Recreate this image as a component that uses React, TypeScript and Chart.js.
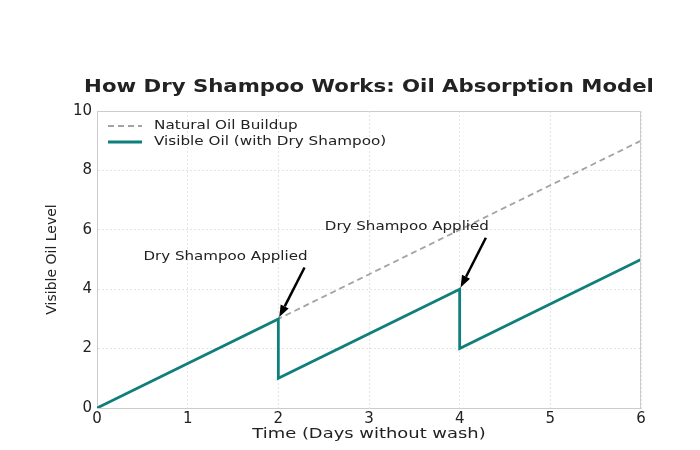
import React, { useEffect, useRef } from 'react';
import { Chart, registerables } from 'chart.js';

Chart.register(...registerables);

// Data
const shampooDays = [0, 2, 2, 4, 4, 6];
const visibleOil = [0, 3, 1, 4, 2, 5];
const naturalDays = [0, 2, 4, 6];
const naturalOil = [0, 3, 6, 9];
const xTicks = [0, 1, 2, 3, 4, 5, 6];
const yTicks = [0, 2, 4, 6, 8, 10];

const annotationLabels = ['Dry Shampoo Applied', 'Dry Shampoo Applied'];
const annotationTextX = [2.3, 4.3];
const annotationTextY = [5, 6];
const annotationPointX = [2, 4];
const annotationPointY = [3, 4];

const legendLabels = ['Natural Oil Buildup', 'Visible Oil (with Dry Shampoo)'];

const FONT = '"DejaVu Sans", sans-serif';
const TEAL = '#0f7f7c';
const GRAY = '#a3a3a3';
const INK = '#222222';

// the reference text is a little wider than the font draws it, so stretch it sideways
function wideText(ctx: CanvasRenderingContext2D, text: string, x: number, y: number, align: CanvasTextAlign, sx: number) {
  ctx.save();
  ctx.translate(x, y);
  ctx.scale(sx, 1);
  ctx.textAlign = align;
  ctx.fillText(text, 0, 0);
  ctx.restore();
}

const overlayPlugin = {
  id: 'overlay',
  afterDraw(chart: any) {
    const { ctx, chartArea, scales } = chart;
    const xs = scales.x;
    const ys = scales.y;
    ctx.save();

    // frame (top and right)
    ctx.strokeStyle = '#cccccc';
    ctx.lineWidth = 1;
    ctx.beginPath();
    ctx.moveTo(chartArea.left, chartArea.top + 0.5);
    ctx.lineTo(chartArea.right - 0.5, chartArea.top + 0.5);
    ctx.lineTo(chartArea.right - 0.5, chartArea.bottom);
    ctx.stroke();

    // title
    ctx.fillStyle = INK;
    ctx.font = `bold 17px ${FONT}`;
    ctx.textBaseline = 'middle';
    wideText(ctx, 'How Dry Shampoo Works: Oil Absorption Model', (chartArea.left + chartArea.right) / 2, chartArea.top - 23, 'center', 1.25);

    // x axis title
    ctx.font = `14px ${FONT}`;
    wideText(ctx, 'Time (Days without wash)', (chartArea.left + chartArea.right) / 2, chartArea.bottom + 26, 'center', 1.28);

    // legend
    ctx.font = `13px ${FONT}`;
    legendLabels.forEach((label, i) => {
      const y = chartArea.top + 15 + i * 16;
      const x0 = chartArea.left + 11;
      ctx.beginPath();
      if (i === 0) {
        ctx.setLineDash([6, 4]);
        ctx.strokeStyle = GRAY;
        ctx.lineWidth = 1.8;
      } else {
        ctx.setLineDash([]);
        ctx.strokeStyle = TEAL;
        ctx.lineWidth = 2.8;
      }
      ctx.moveTo(x0, y);
      ctx.lineTo(x0 + 34, y);
      ctx.stroke();
      ctx.setLineDash([]);
      ctx.fillStyle = INK;
      wideText(ctx, label, x0 + 46, y, 'left', 1.17);
    });

    // annotations
    annotationLabels.forEach((label, i) => {
      const tx = xs.getPixelForValue(annotationTextX[i]);
      const ty = ys.getPixelForValue(annotationTextY[i]);
      const px = xs.getPixelForValue(annotationPointX[i]);
      const py = ys.getPixelForValue(annotationPointY[i]);
      ctx.font = `13px ${FONT}`;
      ctx.fillStyle = INK;
      ctx.textBaseline = 'alphabetic';
      wideText(ctx, label, tx + 2, ty, 'right', 1.16);

      const sx = tx - 1;
      const sy = ty + 8;
      const ang = Math.atan2(py - sy, px - sx);
      const ex = px - Math.cos(ang) * 2;
      const ey = py - Math.sin(ang) * 2;
      const headLen = 12;
      const headW = 4.5;
      const bx = ex - Math.cos(ang) * headLen;
      const by = ey - Math.sin(ang) * headLen;
      ctx.strokeStyle = '#000000';
      ctx.fillStyle = '#000000';
      ctx.lineWidth = 2.5;
      ctx.beginPath();
      ctx.moveTo(sx, sy);
      ctx.lineTo(bx, by);
      ctx.stroke();
      ctx.beginPath();
      ctx.moveTo(ex, ey);
      ctx.lineTo(bx - Math.sin(ang) * headW, by + Math.cos(ang) * headW);
      ctx.lineTo(bx + Math.sin(ang) * headW, by - Math.cos(ang) * headW);
      ctx.closePath();
      ctx.fill();
    });

    ctx.restore();
  },
};

export default function App() {
  const canvasRef = useRef<HTMLCanvasElement>(null);

  useEffect(() => {
    if (!canvasRef.current) return;
    const chart = new Chart(canvasRef.current, {
      type: 'line',
      data: {
        datasets: [
          {
            label: legendLabels[1],
            data: shampooDays.map((d, i) => ({ x: d, y: visibleOil[i] })),
            borderColor: TEAL,
            borderWidth: 2.8,
            pointRadius: 0,
            tension: 0,
            fill: false,
          },
          {
            label: legendLabels[0],
            data: naturalDays.map((d, i) => ({ x: d, y: naturalOil[i] })),
            borderColor: GRAY,
            borderWidth: 1.8,
            borderDash: [6, 4],
            pointRadius: 0,
            tension: 0,
            fill: false,
          },
        ],
      },
      options: {
        responsive: true,
        maintainAspectRatio: false,
        animation: false,
        layout: { padding: { top: 103, right: 51, left: 0, bottom: 0 } },
        plugins: {
          legend: { display: false },
          tooltip: { enabled: false },
          title: { display: false },
        },
        scales: {
          x: {
            type: 'linear',
            min: 0,
            max: 6,
            afterBuildTicks: (axis: any) => {
              axis.ticks = xTicks.map((v) => ({ value: v }));
            },
            afterFit: (axis: any) => {
              axis.height = 34;
            },
            grid: { color: '#e4e4e4', drawTicks: false },
            border: { color: '#cccccc', dash: [2, 2] } as any,
            ticks: { color: INK, font: { family: FONT, size: 15 }, padding: 2 },
          },
          y: {
            type: 'linear',
            min: 0,
            max: 10,
            afterBuildTicks: (axis: any) => {
              axis.ticks = yTicks.map((v) => ({ value: v }));
            },
            afterFit: (axis: any) => {
              axis.width = 89;
            },
            grid: { color: '#e4e4e4', drawTicks: false },
            border: { color: '#cccccc', dash: [2, 2] } as any,
            ticks: { color: INK, font: { family: FONT, size: 15 }, padding: 5 },
            title: {
              display: true,
              text: 'Visible Oil Level',
              color: INK,
              font: { family: FONT, size: 14 },
              padding: { top: 36, bottom: 0 },
            },
          },
        },
      },
      plugins: [overlayPlugin],
    });
    return () => chart.destroy();
  }, []);

  return (
    <div style={{ width: 684, height: 434, position: 'relative' }}>
      <canvas ref={canvasRef}></canvas>
    </div>
  );
}
